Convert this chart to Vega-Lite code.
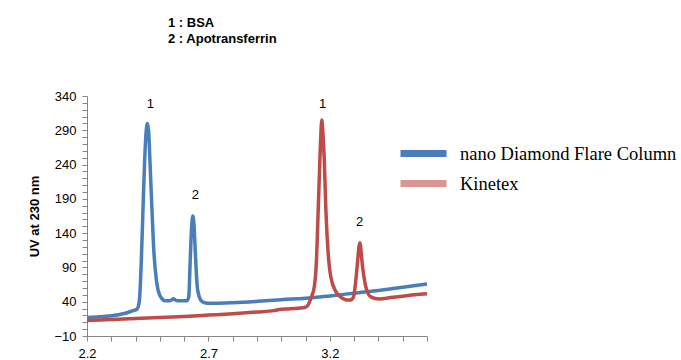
{
  "$schema": "https://vega.github.io/schema/vega-lite/v6.json",
  "width": 340,
  "height": 240,
  "autosize": "none",
  "padding": {"left": 87, "top": 96, "right": 254, "bottom": 24},
  "background": "white",
  "config": {
    "view": {"stroke": null},
    "legend": {
      "title": null,
      "orient": "none",
      "symbolType": "stroke",
      "symbolSize": 2116,
      "symbolStrokeWidth": 7,
      "symbolOpacity": 1,
      "labelFont": "Liberation Serif",
      "labelFontSize": 18.5,
      "labelColor": "#000000",
      "labelOffset": 10,
      "labelLimit": 400,
      "padding": 0
    }
  },
  "title": {
    "text": ["1 : BSA", "2 : Apotransferrin"],
    "anchor": "start",
    "frame": "group",
    "dx": 81,
    "offset": 44,
    "font": "Liberation Sans",
    "fontSize": 13,
    "fontWeight": "bold",
    "lineHeight": 16.5,
    "color": "#000000"
  },
  "datasets": {
    "curves": [
      {"x": 2.2, "uv": 17, "series": "nano Diamond Flare Column"},
      {"x": 2.25, "uv": 18, "series": "nano Diamond Flare Column"},
      {"x": 2.293, "uv": 19.2, "series": "nano Diamond Flare Column"},
      {"x": 2.33, "uv": 21, "series": "nano Diamond Flare Column"},
      {"x": 2.362, "uv": 23.5, "series": "nano Diamond Flare Column"},
      {"x": 2.39, "uv": 27, "series": "nano Diamond Flare Column"},
      {"x": 2.405, "uv": 29, "series": "nano Diamond Flare Column"},
      {"x": 2.412, "uv": 34, "series": "nano Diamond Flare Column"},
      {"x": 2.417, "uv": 47, "series": "nano Diamond Flare Column"},
      {"x": 2.4237, "uv": 100, "series": "nano Diamond Flare Column"},
      {"x": 2.4305, "uv": 174, "series": "nano Diamond Flare Column"},
      {"x": 2.4375, "uv": 247, "series": "nano Diamond Flare Column"},
      {"x": 2.443, "uv": 285, "series": "nano Diamond Flare Column"},
      {"x": 2.4486, "uv": 300, "series": "nano Diamond Flare Column"},
      {"x": 2.454, "uv": 288, "series": "nano Diamond Flare Column"},
      {"x": 2.459, "uv": 247, "series": "nano Diamond Flare Column"},
      {"x": 2.4675, "uv": 174, "series": "nano Diamond Flare Column"},
      {"x": 2.4757, "uv": 111, "series": "nano Diamond Flare Column"},
      {"x": 2.4856, "uv": 72, "series": "nano Diamond Flare Column"},
      {"x": 2.492, "uv": 58, "series": "nano Diamond Flare Column"},
      {"x": 2.499, "uv": 50, "series": "nano Diamond Flare Column"},
      {"x": 2.51, "uv": 44, "series": "nano Diamond Flare Column"},
      {"x": 2.52, "uv": 41.5, "series": "nano Diamond Flare Column"},
      {"x": 2.54, "uv": 41.5, "series": "nano Diamond Flare Column"},
      {"x": 2.55, "uv": 43, "series": "nano Diamond Flare Column"},
      {"x": 2.5568, "uv": 44.4, "series": "nano Diamond Flare Column"},
      {"x": 2.563, "uv": 42.5, "series": "nano Diamond Flare Column"},
      {"x": 2.5745, "uv": 41.5, "series": "nano Diamond Flare Column"},
      {"x": 2.612, "uv": 41.5, "series": "nano Diamond Flare Column"},
      {"x": 2.619, "uv": 47, "series": "nano Diamond Flare Column"},
      {"x": 2.625, "uv": 100, "series": "nano Diamond Flare Column"},
      {"x": 2.631, "uv": 150, "series": "nano Diamond Flare Column"},
      {"x": 2.636, "uv": 165, "series": "nano Diamond Flare Column"},
      {"x": 2.641, "uv": 150, "series": "nano Diamond Flare Column"},
      {"x": 2.646, "uv": 112, "series": "nano Diamond Flare Column"},
      {"x": 2.654, "uv": 62, "series": "nano Diamond Flare Column"},
      {"x": 2.66, "uv": 50, "series": "nano Diamond Flare Column"},
      {"x": 2.668, "uv": 42.5, "series": "nano Diamond Flare Column"},
      {"x": 2.68, "uv": 39, "series": "nano Diamond Flare Column"},
      {"x": 2.698, "uv": 37.7, "series": "nano Diamond Flare Column"},
      {"x": 2.725, "uv": 37.7, "series": "nano Diamond Flare Column"},
      {"x": 2.8, "uv": 38.5, "series": "nano Diamond Flare Column"},
      {"x": 2.9, "uv": 40.5, "series": "nano Diamond Flare Column"},
      {"x": 3.0, "uv": 43, "series": "nano Diamond Flare Column"},
      {"x": 3.1, "uv": 45, "series": "nano Diamond Flare Column"},
      {"x": 3.2, "uv": 48.5, "series": "nano Diamond Flare Column"},
      {"x": 3.3, "uv": 52.5, "series": "nano Diamond Flare Column"},
      {"x": 3.4, "uv": 56.5, "series": "nano Diamond Flare Column"},
      {"x": 3.5, "uv": 61, "series": "nano Diamond Flare Column"},
      {"x": 3.6, "uv": 66, "series": "nano Diamond Flare Column"},
      {"x": 2.2, "uv": 12.5, "series": "Kinetex"},
      {"x": 2.3, "uv": 14, "series": "Kinetex"},
      {"x": 2.4, "uv": 15.5, "series": "Kinetex"},
      {"x": 2.5, "uv": 17, "series": "Kinetex"},
      {"x": 2.6, "uv": 18.5, "series": "Kinetex"},
      {"x": 2.7, "uv": 20.5, "series": "Kinetex"},
      {"x": 2.8, "uv": 22.5, "series": "Kinetex"},
      {"x": 2.9, "uv": 25, "series": "Kinetex"},
      {"x": 2.97, "uv": 27, "series": "Kinetex"},
      {"x": 3.0, "uv": 29, "series": "Kinetex"},
      {"x": 3.03, "uv": 29.5, "series": "Kinetex"},
      {"x": 3.07, "uv": 30.5, "series": "Kinetex"},
      {"x": 3.1, "uv": 32, "series": "Kinetex"},
      {"x": 3.11, "uv": 35, "series": "Kinetex"},
      {"x": 3.122, "uv": 45, "series": "Kinetex"},
      {"x": 3.136, "uv": 62, "series": "Kinetex"},
      {"x": 3.145, "uv": 101, "series": "Kinetex"},
      {"x": 3.152, "uv": 174, "series": "Kinetex"},
      {"x": 3.159, "uv": 247, "series": "Kinetex"},
      {"x": 3.163, "uv": 285, "series": "Kinetex"},
      {"x": 3.167, "uv": 305, "series": "Kinetex"},
      {"x": 3.171, "uv": 288, "series": "Kinetex"},
      {"x": 3.177, "uv": 247, "series": "Kinetex"},
      {"x": 3.1836, "uv": 174, "series": "Kinetex"},
      {"x": 3.193, "uv": 111, "series": "Kinetex"},
      {"x": 3.204, "uv": 76, "series": "Kinetex"},
      {"x": 3.2245, "uv": 55, "series": "Kinetex"},
      {"x": 3.252, "uv": 45, "series": "Kinetex"},
      {"x": 3.27, "uv": 42.5, "series": "Kinetex"},
      {"x": 3.285, "uv": 42.5, "series": "Kinetex"},
      {"x": 3.2975, "uv": 47.3, "series": "Kinetex"},
      {"x": 3.305, "uv": 65, "series": "Kinetex"},
      {"x": 3.311, "uv": 86, "series": "Kinetex"},
      {"x": 3.3235, "uv": 126, "series": "Kinetex"},
      {"x": 3.3346, "uv": 91, "series": "Kinetex"},
      {"x": 3.348, "uv": 62, "series": "Kinetex"},
      {"x": 3.369, "uv": 47, "series": "Kinetex"},
      {"x": 3.403, "uv": 44, "series": "Kinetex"},
      {"x": 3.45, "uv": 46, "series": "Kinetex"},
      {"x": 3.5, "uv": 48, "series": "Kinetex"},
      {"x": 3.55, "uv": 50, "series": "Kinetex"},
      {"x": 3.6, "uv": 51.5, "series": "Kinetex"}
    ],
    "peaks": [
      {"x": 2.461, "uv": 328, "label": "1"},
      {"x": 2.646, "uv": 195, "label": "2"},
      {"x": 3.17, "uv": 328, "label": "1"},
      {"x": 3.322, "uv": 156, "label": "2"}
    ]
  },
  "encoding": {
    "x": {
      "field": "x", "type": "quantitative",
      "scale": {"domain": [2.2, 3.6], "nice": false, "zero": false},
      "axis": {
        "title": null,
        "values": [2.2, 2.3, 2.4, 2.5, 2.6, 2.7, 2.8, 2.9, 3.0, 3.1, 3.2, 3.3, 3.4, 3.5, 3.6],
        "labelExpr": "abs((datum.value - 2.2) / 0.5 - round((datum.value - 2.2) / 0.5)) < 0.01 ? format(datum.value, '.1f') : ''",
        "grid": false,
        "domainColor": "#868686",
        "tickColor": "#868686",
        "tickSize": 5,
        "labelPadding": 6,
        "labelFont": "Liberation Sans",
        "labelFontSize": 13,
        "labelColor": "#000000",
        "labelFlush": false,
        "labelOverlap": false,
        "labelBound": false
      }
    },
    "y": {
      "field": "uv", "type": "quantitative",
      "scale": {"domain": [-10, 340], "nice": false, "zero": false},
      "axis": {
        "title": "UV at 230 nm",
        "titleFont": "Liberation Sans",
        "titleFontSize": 13,
        "titleFontWeight": "bold",
        "titleColor": "#000000",
        "titlePadding": 12,
        "values": [-10, 0, 10, 20, 30, 40, 50, 60, 70, 80, 90, 100, 110, 120, 130, 140, 150, 160, 170, 180, 190, 200, 210, 220, 230, 240, 250, 260, 270, 280, 290, 300, 310, 320, 330, 340],
        "labelExpr": "(datum.value + 10) % 50 === 0 ? datum.label : ''",
        "grid": false,
        "domainColor": "#868686",
        "tickColor": "#868686",
        "tickSize": 5,
        "labelPadding": 6,
        "labelFont": "Liberation Sans",
        "labelFontSize": 13,
        "labelColor": "#000000",
        "labelOverlap": false,
        "labelBound": false
      }
    }
  },
  "layer": [
    {
      "data": {"name": "curves"},
      "transform": [{"filter": "datum.series === 'nano Diamond Flare Column'"}],
      "mark": {"type": "line", "strokeWidth": 2, "interpolate": "monotone", "clip": true},
      "encoding": {
        "color": {
          "field": "series", "type": "nominal",
          "scale": {"domain": ["nano Diamond Flare Column"], "range": ["#4A7EBB"]},
          "legend": {"legendX": 310, "legendY": 31}
        }
      }
    },
    {
      "data": {"name": "curves"},
      "transform": [{"filter": "datum.series === 'Kinetex'"}],
      "mark": {"type": "line", "strokeWidth": 2, "interpolate": "monotone", "clip": true},
      "encoding": {
        "color": {
          "field": "series", "type": "nominal",
          "scale": {"domain": ["Kinetex"], "range": ["#D99694"]},
          "legend": {"legendX": 310, "legendY": 61}
        }
      }
    },
    {
      "data": {"name": "curves"},
      "mark": {"type": "line", "strokeWidth": 3.5, "interpolate": "monotone", "clip": true},
      "encoding": {
        "color": {
          "field": "series", "type": "nominal",
          "scale": {"domain": ["nano Diamond Flare Column", "Kinetex"], "range": ["#4A7EBB", "#BE4B48"]},
          "legend": null
        },
        "detail": {"field": "series"}
      }
    },
    {
      "data": {"name": "peaks"},
      "mark": {"type": "text", "font": "Liberation Sans", "fontSize": 13, "color": "#000000", "baseline": "middle", "align": "center"},
      "encoding": {
        "text": {"field": "label"}
      }
    }
  ],
  "resolve": {"scale": {"color": "independent"}}
}
